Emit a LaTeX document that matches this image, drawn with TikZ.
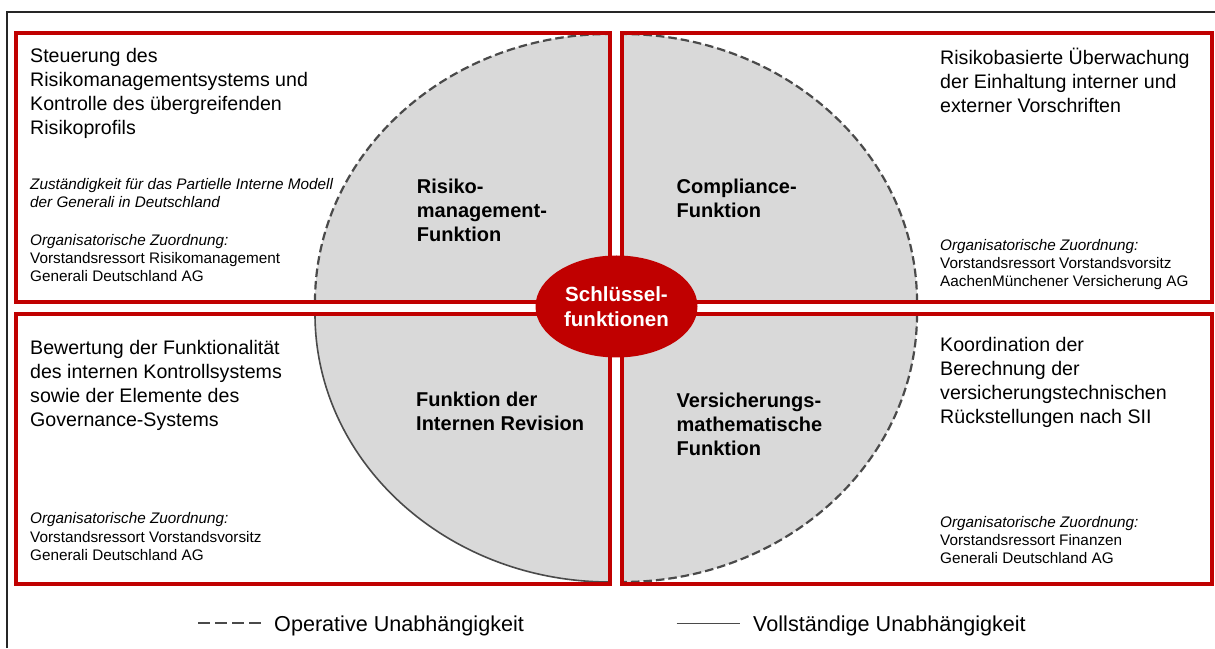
\documentclass[tikz,border=0pt]{standalone}
\usepackage{fontspec}
\setmainfont{Liberation Sans}
\usetikzlibrary{shapes.geometric}
\definecolor{kred}{HTML}{C00000}
\definecolor{kgray}{HTML}{D9D9D9}
\definecolor{kline}{HTML}{4A4A4A}
\definecolor{kframe}{HTML}{262626}
\newcommand\mlines[1]{\begin{tabular}[t]{@{}l@{}}#1\end{tabular}}
\begin{document}
\begin{tikzpicture}[x=1pt,y=1pt,
  redbox/.style={draw=kred, line width=4pt},
  quad/.style={fill=kgray},
  dasharc/.style={draw=kline, line width=2.2pt, dash pattern=on 8.5pt off 4pt},
  solidarc/.style={draw=kline, line width=1.6pt},
  maintxt/.style={anchor=base west, inner sep=0pt, font=\fontsize{19.6}{24}\selectfont},
  smalltxt/.style={anchor=base west, inner sep=0pt, font=\fontsize{15.3}{18}\selectfont},
  fnlabel/.style={anchor=base west, inner sep=0pt, font=\fontsize{20}{24}\selectfont\bfseries},
  legendtxt/.style={anchor=base west, inner sep=0pt, font=\fontsize{21.6}{25}\selectfont},
  legdash/.style={draw=kline, line width=1.8pt, dash pattern=on 12pt off 5pt},
  legsolid/.style={draw=kline, line width=1.6pt}]
\useasboundingbox (0,0) rectangle (1215,648);
% outer frame
\draw[kframe, line width=1.2pt] (7,0) -- (7,636) -- (1216,636);

% quadrants
\fill[quad] (610,346) -- (315,346) arc[start angle=180,end angle=90,x radius=295pt,y radius=268pt] -- cycle;
\draw[dasharc] (315,346) arc[start angle=180,end angle=90,x radius=295pt,y radius=268pt];
\fill[quad] (622,346) -- (917,346) arc[start angle=0,end angle=90,x radius=295pt,y radius=268pt] -- cycle;
\draw[dasharc] (917,346) arc[start angle=0,end angle=90,x radius=295pt,y radius=268pt];
\fill[quad] (610,334) -- (315,334) arc[start angle=180,end angle=270,x radius=295pt,y radius=268pt] -- cycle;
\draw[solidarc] (315,334) arc[start angle=180,end angle=270,x radius=295pt,y radius=268pt];
\fill[quad] (622,334) -- (917,334) arc[start angle=0,end angle=-90,x radius=295pt,y radius=268pt] -- cycle;
\draw[dasharc] (917,334) arc[start angle=0,end angle=-90,x radius=295pt,y radius=268pt];

% boxes
\draw[redbox] (16,346) rectangle (610,615);
\draw[redbox] (622,346) rectangle (1212,615);
\draw[redbox] (16,64) rectangle (610,334);
\draw[redbox] (622,64) rectangle (1212,334);

% centre
\node[ellipse, fill=kred, minimum width=162pt, minimum height=102pt, inner sep=0pt,
  text=white, align=center, font=\fontsize{20.5}{25}\selectfont\bfseries] (key) at (616.5,341.5) {Schlüssel-\\funktionen};

% function labels
\node[fnlabel] (rm) at (416.7,454.7) {\mlines{Risiko-\\management-\\Funktion}};
\node[fnlabel] (cf) at (676.5,454.7) {\mlines{Compliance-\\Funktion}};
\node[fnlabel] (ir) at (416,241.3) {\mlines{Funktion der\\Internen Revision}};
\node[fnlabel] (vm) at (676.5,240.7) {\mlines{Versicherungs-\\mathematische\\Funktion}};

% top left texts
\node[maintxt] (tlmain) at (30,585.5) {\mlines{Steuerung des\\Risikomanagementsystems und\\Kontrolle des übergreifenden\\Risikoprofils}};
\node[smalltxt] (tlital) at (30,458) {\mlines{\itshape Zuständigkeit für das Partielle Interne Modell\\\itshape der Generali in Deutschland}};
\node[smalltxt] (tlorg) at (30,402) {\mlines{\itshape Organisatorische Zuordnung:\\Vorstandsressort Risikomanagement\\Generali Deutschland AG}};

% top right texts
\node[maintxt] (trmain) at (940,583) {\mlines{Risikobasierte Überwachung\\der Einhaltung  interner und\\externer Vorschriften}};
\node[smalltxt] (trorg) at (940,397.5) {\mlines{\itshape Organisatorische Zuordnung:\\Vorstandsressort Vorstandsvorsitz\\AachenMünchener Versicherung AG}};

% bottom left texts
\node[maintxt] (blmain) at (30,293.5) {\mlines{Bewertung der Funktionalität\\des internen Kontrollsystems\\sowie der Elemente des\\Governance-Systems}};
\node[smalltxt] (blorg) at (30,124) {\mlines{\itshape Organisatorische Zuordnung:\\Vorstandsressort Vorstandsvorsitz\\Generali Deutschland AG}};

% bottom right texts
\node[maintxt] (brmain) at (940,296.3) {\mlines{Koordination der\\Berechnung der\\versicherungstechnischen\\Rückstellungen nach SII}};
\node[smalltxt] (brorg) at (940,120.7) {\mlines{\itshape Organisatorische Zuordnung:\\Vorstandsressort Finanzen\\Generali Deutschland AG}};

% legend
\coordinate (ld1) at (198,24.7);
\coordinate (ld2) at (262,24.7);
\draw[legdash] (ld1) -- (ld2);
\node[legendtxt] (lop) at (274,17) {Operative Unabhängigkeit};
\coordinate (ls1) at (676.5,24.7);
\coordinate (ls2) at (740,24.7);
\draw[legsolid] (ls1) -- (ls2);
\node[legendtxt] (lvo) at (753,17) {Vollständige Unabhängigkeit};
\end{tikzpicture}
\end{document}
